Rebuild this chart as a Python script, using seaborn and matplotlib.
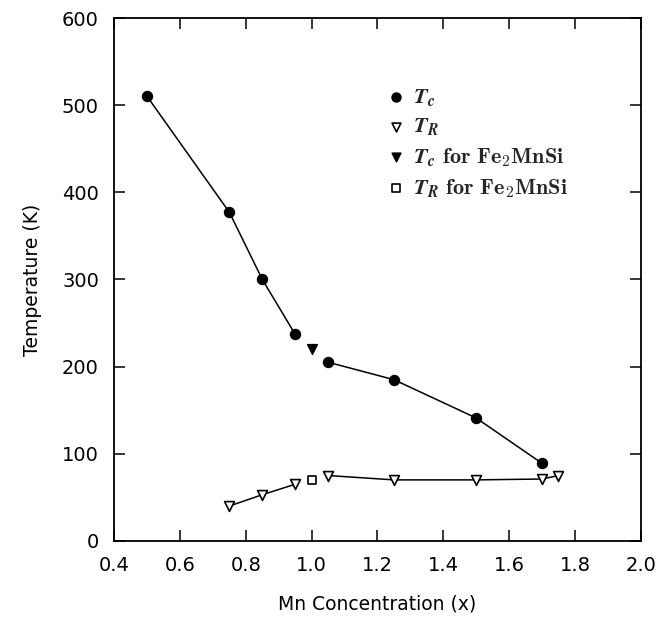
import pandas as pd
import matplotlib.pyplot as plt
import seaborn as sns

# Curie temperature Tc vs Mn content
tc_x = [0.50, 0.75, 0.85, 0.95, 1.05, 1.25, 1.50, 1.70]
tc_y = [510, 377, 300, 237, 205, 185, 141, 89]
tc_seg = [0, 0, 0, 0, 1, 1, 1, 1]

# reorientation temperature TR
tr_x = [0.75, 0.85, 0.95, 1.05, 1.25, 1.50, 1.70, 1.75]
tr_y = [40, 53, 65, 75, 70, 70, 71, 75]
tr_seg = [0, 0, 0, 1, 1, 1, 1, 1]

# Fe2MnSi points
fe_x = [1.0]
fe_tc = [220]
fe_tr = [70]

tc = pd.DataFrame({'x': tc_x, 'T': tc_y, 'seg': tc_seg})
tr = pd.DataFrame({'x': tr_x, 'T': tr_y, 'seg': tr_seg})

sns.set_style("ticks")
plt.rcParams['font.family'] = ['DejaVu Sans']
plt.rcParams['mathtext.fontset'] = 'cm'

fig = plt.figure(figsize=(6.64, 6.21), dpi=100)
ax = fig.add_axes([0.172, 0.129, 0.793, 0.842])

sns.lineplot(data=tc, x='x', y='T', units='seg', estimator=None, color='black', lw=1.1, ax=ax)
sns.lineplot(data=tr, x='x', y='T', units='seg', estimator=None, color='black', lw=1.1, ax=ax)

h1 = ax.scatter(tc_x, tc_y, marker='o', s=52, color='black', zorder=3)
h2 = ax.scatter(tr_x, tr_y, marker='v', s=50, facecolor='white', edgecolor='black', lw=1.2, zorder=3)
h3 = ax.scatter(fe_x, fe_tc, marker='v', s=50, color='black', zorder=3)
h4 = ax.scatter(fe_x, fe_tr, marker='s', s=40, facecolor='white', edgecolor='black', lw=1.2, zorder=3)

labels = [r'$\mathbfit{T}_{\mathbfit{c}}$',
          r'$\mathbfit{T}_{\mathbfit{R}}$',
          r'$\mathbfit{T}_{\mathbfit{c}}\ \mathbf{for\ Fe_{2}MnSi}$',
          r'$\mathbfit{T}_{\mathbfit{R}}\ \mathbf{for\ Fe_{2}MnSi}$']
ax.legend([h1, h2, h3, h4], labels, loc='upper left', bbox_to_anchor=(0.50, 0.885),
          frameon=False, fontsize=16, handlelength=0.9, handletextpad=0.3,
          markerscale=0.9, labelspacing=0.35, borderaxespad=0)

ax.set_xlim(0.4, 2.0)
ax.set_ylim(0, 600)
ax.set_xticks([0.4, 0.6, 0.8, 1.0, 1.2, 1.4, 1.6, 1.8, 2.0])
ax.set_yticks([0, 100, 200, 300, 400, 500, 600])
ax.set_xticklabels(['0.4', '0.6', '0.8', '1.0', '1.2', '1.4', '1.6', '1.8', '2.0'])
ax.tick_params(direction='in', top=True, right=True, length=8, width=1.1,
               labelsize=14, pad=11, colors='black')
for s in ax.spines.values():
    s.set_linewidth(1.3)
    s.set_color('black')

ax.set_xlabel('Mn Concentration (x)', fontsize=13.5, labelpad=14, color='black')
ax.set_ylabel('Temperature (K)', fontsize=13.5, labelpad=14, color='black')

plt.savefig('out.png', dpi=100)
